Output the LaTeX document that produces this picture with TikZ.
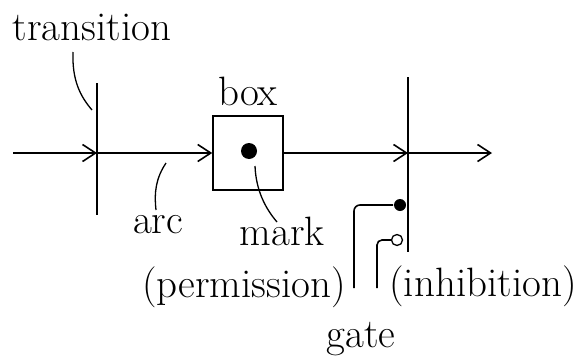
\documentclass[tikz,border=0pt]{standalone}
\usetikzlibrary{positioning,calc,arrows.meta}

\begin{document}
\begin{tikzpicture}[x=1pt, y=-1pt,
    line width=1.6pt,
    flow/.style={-{Straight Barb[length=13pt,width=17pt,line width=1.6pt]}},
    txt/.style={inner sep=0pt, anchor=base, font=\fontsize{41}{44}\selectfont},
    leader/.style={line width=1.3pt},
    token/.style={circle, inner sep=0pt, minimum size=#1}]
  \useasboundingbox (0,0) rectangle (585,356);
  % transitions
  \coordinate (t1top) at (97,83);
  \coordinate (t1) at (97,153);
  \coordinate (t1bot) at (97,215);
  \coordinate (t2top) at (408,77);
  \coordinate (t2) at (408,153);
  \coordinate (t2bot) at (408,252);
  \draw (t1top) -- (t1bot);
  \draw (t2top) -- (t2bot);
  % box with its mark
  \node[draw, minimum width=70pt, minimum height=74pt, inner sep=0pt] (box) at (248,153) {};
  \node[token=16pt, fill] (dot) at (249,151) {};
  % arcs
  \coordinate (in) at (13,153);
  \coordinate (out) at (492,153);
  \draw[flow] (in) -- (t1);
  \draw[flow] (t1) -- (box.west);
  \draw[flow] (box.east) -- (t2);
  \draw[flow] (t2) -- (out);
  % gates
  \node[token=12pt, fill] (perm) at (400,205) {};
  \node[token=11pt, draw, line width=1.3pt] (inhib) at (397,240) {};
  \coordinate (permfoot) at (354,288);
  \coordinate (inhibfoot) at (377,288);
  \draw[rounded corners=6pt] (permfoot) |- (perm.west);
  \draw[rounded corners=5pt] (inhibfoot) |- (inhib.west);
  % labels
  \node[txt] (translbl) at (92,40) {transition};
  \node[txt, anchor=south, above=9pt of box] (boxlbl) {box};
  \node[txt] (arclbl) at (158,233) {arc};
  \node[txt] (marklbl) at (282,245) {mark};
  \node[txt] (permlbl) at (244,297) {(permission)};
  \node[txt] (inhiblbl) at (483,296) {(inhibition)};
  \node[txt] (gatelbl) at (361,347) {gate};
  % leaders
  \coordinate (transtip) at (73,52);
  \coordinate (arctip) at (166,163);
  \coordinate (marktip) at (255,166);
  \draw[leader] (transtip) .. controls (72,80) and (80,96) .. (92,110);
  \draw[leader] (arctip) .. controls (156,178) and (154,192) .. (156,210);
  \draw[leader] (marktip) .. controls (256,190) and (265,208) .. (277,222);
\end{tikzpicture}
\end{document}
